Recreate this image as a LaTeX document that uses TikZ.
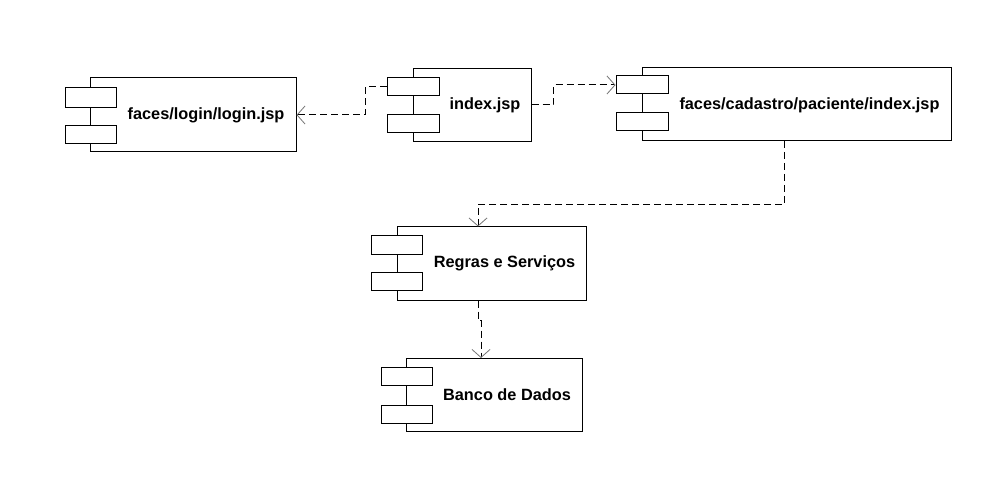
\documentclass[tikz,border=0pt]{standalone}
\usepackage{fontspec}
\setmainfont{Liberation Sans}
\usetikzlibrary{arrows.meta}
\begin{document}
\begin{tikzpicture}[x=1pt,y=-1pt,
  body/.style={draw=black,line width=1pt,fill=white,inner sep=0pt,minimum width=#1},
  port/.style={draw=black,line width=1pt,fill=white,inner sep=0pt,minimum width=51pt,minimum height=18pt},
  txt/.style={font=\bfseries\fontsize{16.3}{19}\selectfont,inner sep=0pt},
  dep/.style={draw=black,line width=1pt,dash pattern=on 7pt off 4pt,
    -{Straight Barb[length=8pt,width=18pt,line width=0.8pt,color=black!55]}}
]
\useasboundingbox (0,0) rectangle (1005,484);
% login
\node[body=206pt,minimum height=74pt] (login) at (193,115) {};
\node[port,minimum height=20pt] (loginT) at (90.5,98) {};
\node[port] (loginB) at (90.5,135) {};
\node[txt] (loginL) at (206,115) {faces/login/login.jsp};
% index
\node[body=118pt,minimum height=73pt] (index) at (472,105) {};
\node[port,minimum width=52pt] (indexT) at (413,87) {};
\node[port,minimum width=52pt] (indexB) at (413,124) {};
\node[txt] (indexL) at (485,105) {index.jsp};
% cadastro
\node[body=309pt,minimum height=73pt] (cad) at (797,104) {};
\node[port,minimum width=52pt] (cadT) at (642,85) {};
\node[port,minimum width=52pt] (cadB) at (642,122) {};
\node[txt] (cadL) at (809.5,105) {faces/cadastro/paciente/index.jsp};
% regras
\node[body=189pt,minimum height=73pt] (reg) at (492,263.5) {};
\node[port] (regT) at (397,245) {};
\node[port] (regB) at (397,281) {};
\node[txt] (regL) at (504.5,263) {Regras e Serviços};
% banco
\node[body=176pt,minimum height=73pt] (ban) at (494.5,395) {};
\node[port] (banT) at (406.5,376) {};
\node[port] (banB) at (406.5,414) {};
\node[txt] (banL) at (507,395) {Banco de Dados};
% connectors
\draw[dep] (indexT.west) -- ++(-21.5,0) |- (login.east);
\draw[dep] (index.east) -- ++(22,0) |- (cadT.west);
\draw[dep] ([xshift=-12.5pt]cad.south) -- ++(0,63.5) -| ([xshift=-14pt]reg.north);
\draw[dep] ([xshift=-14pt]reg.south) -- ++(0,20) -| ([xshift=-13.5pt]ban.north);
\end{tikzpicture}
\end{document}
